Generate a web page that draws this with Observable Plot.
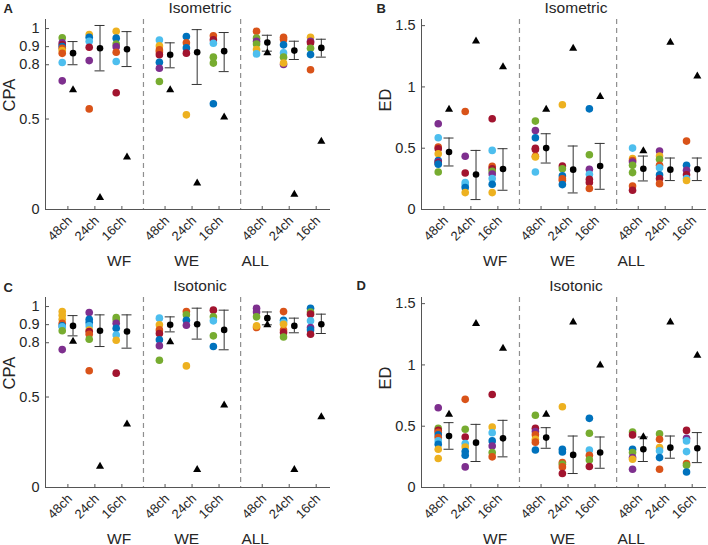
<!DOCTYPE html>
<html><head><meta charset="utf-8">
<script src="https://cdn.jsdelivr.net/npm/d3@7"></script>
<script src="https://cdn.jsdelivr.net/npm/@observablehq/plot@0.6"></script>
<style>
html,body{margin:0;padding:0;background:#fff;}
#chart{display:grid;grid-template-columns:354px 354px;grid-template-rows:272px 273px;width:708px;height:545px;}
#chart svg{display:block;overflow:visible;}
svg text{white-space:pre;}
</style></head><body><div id="chart"></div>
<script>
const groups = ["WF", "WE", "ALL"];
const channels = ["48ch", "24ch", "16ch"];
const palette = {B:"#0072BD", O:"#D95319", Y:"#EDB120", P:"#7E2F8E", G:"#77AC30", L:"#4DBEEE", R:"#A2142F"};
const cpaTicks = [0, 0.5, 0.8, 0.9, 1];
const edTicks = [0, 0.5, 1, 1.5];

// ---- A: CPA, Isometric ----
const dotsA = [
  [[.949,"G"],[.921,"P"],[.910,"R"],[.901,"B"],[.891,"O"],[.878,"Y"],[.863,"O"],[.812,"L"],[.711,"P"]],
  [[.967,"Y"],[.952,"B"],[.930,"L"],[.897,"R"],[.823,"P"],[.556,"O"]],
  [[.985,"Y"],[.947,"B"],[.915,"G"],[.900,"P"],[.869,"O"],[.818,"L"],[.645,"R"]],
  [[.937,"L"],[.904,"Y"],[.882,"O"],[.871,"O"],[.855,"R"],[.814,"B"],[.781,"P"],[.707,"G"]],
  [[.956,"B"],[.921,"O"],[.893,"B"],[.864,"R"],[.523,"Y"]],
  [[.960,"O"],[.938,"R"],[.919,"L"],[.842,"G"],[.809,"G"],[.584,"B"]],
  [[.985,"O"],[.947,"G"],[.930,"P"],[.915,"G"],[.884,"Y"],[.860,"L"]],
  [[.952,"O"],[.940,"O"],[.910,"B"],[.866,"L"],[.801,"P"],[.842,"G"],[.810,"Y"]],
  [[.952,"Y"],[.930,"P"],[.921,"R"],[.891,"G"],[.856,"B"],[.772,"O"]]
];
const meanA = [.864, .891, .886, .855, .869, .875, .923, .878, .893];
const lowA  = [.800, .766, .790, .783, .691, .762, .875, .829, .842];
const highA = [.928, 1.017, .983, .921, .994, .978, .963, .930, .941];
const triA  = [.661, .065, .289, .661, .145, .510, .866, .083, .376];

// ---- B: ED, Isometric ----
const dotsB = [
  [[.699,"P"],[.585,"L"],[.509,"O"],[.495,"R"],[.455,"Y"],[.400,"B"],[.390,"P"],[.379,"R"],[.370,"B"],[.306,"G"]],
  [[.799,"O"],[.434,"P"],[.298,"R"],[.220,"L"],[.200,"L"],[.179,"B"],[.138,"Y"]],
  [[.740,"R"],[.482,"L"],[.352,"O"],[.333,"R"],[.311,"G"],[.290,"P"],[.252,"L"],[.206,"B"],[.138,"Y"]],
  [[.721,"G"],[.645,"P"],[.585,"B"],[.500,"R"],[.490,"R"],[.435,"O"],[.428,"Y"],[.306,"L"]],
  [[.854,"Y"],[.355,"R"],[.333,"G"],[.274,"B"],[.250,"O"],[.238,"O"],[.203,"B"]],
  [[.821,"B"],[.447,"G"],[.328,"P"],[.287,"L"],[.247,"R"],[.220,"R"],[.171,"O"]],
  [[.501,"L"],[.415,"Y"],[.400,"O"],[.388,"P"],[.360,"G"],[.301,"G"],[.192,"O"],[.157,"R"]],
  [[.477,"P"],[.436,"Y"],[.409,"G"],[.360,"O"],[.341,"L"],[.284,"B"],[.252,"R"],[.211,"O"]],
  [[.558,"O"],[.360,"B"],[.320,"P"],[.284,"R"],[.252,"L"],[.236,"Y"]]
];
const meanB = [.469, .285, .330, .501, .325, .355, .333, .325, .328];
const lowB  = [.355, .081, .157, .379, .135, .165, .233, .236, .236];
const highB = [.583, .482, .496, .618, .518, .539, .436, .420, .420];
const triB  = [.816, 1.374, 1.163, .816, 1.314, .921, .477, 1.363, 1.087];

// ---- C: CPA, Isotonic ----
const dotsC = [
  [[.972,"Y"],[.952,"Y"],[.930,"Y"],[.908,"O"],[.893,"B"],[.888,"L"],[.866,"G"],[.762,"P"]],
  [[.967,"P"],[.930,"B"],[.912,"B"],[.893,"L"],[.870,"Y"],[.862,"R"],[.847,"O"],[.819,"G"],[.645,"O"]],
  [[.939,"G"],[.925,"G"],[.908,"P"],[.880,"B"],[.843,"L"],[.814,"Y"],[.632,"R"]],
  [[.936,"L"],[.899,"Y"],[.871,"O"],[.851,"R"],[.816,"B"],[.783,"P"],[.703,"G"]],
  [[.972,"O"],[.954,"G"],[.924,"B"],[.897,"P"],[.672,"Y"]],
  [[.980,"R"],[.943,"G"],[.921,"L"],[.838,"G"],[.779,"B"]],
  [[.991,"P"],[.970,"P"],[.943,"G"],[.884,"O"],[.893,"Y"]],
  [[.972,"O"],[.924,"B"],[.912,"L"],[.870,"O"],[.856,"R"],[.902,"Y"],[.832,"G"]],
  [[.991,"B"],[.970,"G"],[.958,"R"],[.921,"L"],[.884,"P"],[.871,"B"],[.847,"R"]]
];
const meanC = [.893, .866, .862, .899, .902, .871, .936, .893, .902];
const lowC  = [.838, .779, .770, .860, .820, .761, .899, .855, .851];
const highC = [.950, .954, .954, .943, .991, .980, .970, .936, .958];
const triC  = [.807, .116, .350, .805, .098, .455, .899, .098, .390];

// ---- D: ED, Isotonic ----
const dotsD = [
  [[.651,"P"],[.483,"G"],[.466,"R"],[.450,"O"],[.429,"B"],[.407,"O"],[.380,"L"],[.353,"B"],[.312,"Y"],[.236,"Y"]],
  [[.719,"O"],[.475,"G"],[.412,"R"],[.358,"L"],[.330,"Y"],[.293,"B"],[.263,"B"],[.168,"P"]],
  [[.759,"R"],[.494,"Y"],[.447,"L"],[.380,"B"],[.339,"P"],[.285,"G"],[.250,"O"]],
  [[.589,"G"],[.483,"R"],[.456,"P"],[.430,"O"],[.393,"Y"],[.370,"O"],[.306,"B"]],
  [[.659,"Y"],[.312,"B"],[.290,"B"],[.203,"O"],[.190,"G"],[.168,"O"],[.114,"R"]],
  [[.564,"B"],[.442,"G"],[.306,"L"],[.263,"O"],[.225,"G"],[.171,"R"]],
  [[.453,"G"],[.429,"R"],[.312,"B"],[.285,"G"],[.244,"P"],[.231,"Y"],[.149,"P"]],
  [[.439,"G"],[.393,"O"],[.325,"Y"],[.300,"L"],[.244,"B"],[.149,"O"]],
  [[.466,"R"],[.401,"P"],[.380,"L"],[.293,"L"],[.195,"O"],[.182,"G"],[.127,"B"]]
];
const meanD = [.420, .366, .401, .407, .266, .285, .312, .325, .320];
const lowD  = [.312, .212, .250, .320, .114, .157, .212, .239, .203];
const highD = [.529, .515, .548, .488, .420, .412, .412, .420, .448];
const triD  = [.597, 1.337, 1.134, .597, 1.348, .998, .412, 1.348, 1.077];

// ---------- drawing ----------
const FONT = "'Liberation Sans', Arial, Helvetica, sans-serif";
const INK = "#262626";
const AXIS = "#555";
const GROUP_STEP = 3.6;
const X_DOMAIN = [-0.83, 9.73];
const PLOT_W = 285, PLOT_H = 190;
const pxX = PLOT_W / (X_DOMAIN[1] - X_DOMAIN[0]);

function tickPos(i) { return Math.floor(i / 3) * GROUP_STEP + (i % 3); }
const tickPositions = d3.range(9).map(tickPos);
const tickLabel = new Map(tickPositions.map((p, i) => [p, channels[i % 3]]));
const separators = [1, 2].map(g => (tickPos(g * 3 - 1) + tickPos(g * 3)) / 2);

function panel(o) {
  const pxY = PLOT_H / (o.yDomain[1] - o.yDomain[0]);
  const dots = o.dots.flatMap((list, i) => list.map(([v, c]) => ({x: tickPos(i) - 0.21, y: v, c: palette[c]})));
  const stats = d3.range(9).map(i => ({x: tickPos(i) + 0.19, mean: o.mean[i], lo: o.low[i], hi: o.high[i], tri: o.tri[i]}));
  const cap = 5 / pxX;
  const tickLen = 3.5;
  return Plot.plot({
    width: 354, height: o.height,
    marginLeft: o.ml, marginRight: 354 - o.ml - PLOT_W,
    marginTop: o.mt, marginBottom: o.height - o.mt - PLOT_H,
    style: {fontFamily: FONT, color: INK, background: "white", overflow: "visible"},
    x: {domain: X_DOMAIN, axis: null},
    y: {domain: o.yDomain},
    marks: [
      Plot.ruleX(separators, {stroke: "#8f8f8f", strokeWidth: 1.2, strokeDasharray: "5,4"}),
      Plot.ruleY([o.yDomain[0]], {stroke: AXIS}),
      Plot.ruleX([X_DOMAIN[0]], {stroke: AXIS}),
      Plot.link(o.yTicks, {x1: X_DOMAIN[0], x2: X_DOMAIN[0] + tickLen / pxX, y1: d => d, y2: d => d, stroke: AXIS}),
      Plot.link(tickPositions, {x1: d => d, x2: d => d, y1: o.yDomain[0], y2: o.yDomain[0] + tickLen / pxY, stroke: AXIS}),
      Plot.axisY({ticks: o.yTicks, tickSize: 0, tickPadding: 6, tickFormat: d => String(d), fontSize: 14.5, label: null}),
      Plot.text(tickPositions, {x: d => d, y: o.yDomain[0], text: d => tickLabel.get(d), rotate: -45, textAnchor: "end", lineAnchor: "middle", dx: 2, dy: 9, fontSize: 13}),
      Plot.dot(dots, {x: "x", y: "y", fill: "c", r: 3.8}),
      Plot.ruleX(stats, {x: "x", y1: "lo", y2: "hi", stroke: "#333", strokeWidth: 1}),
      Plot.ruleY(stats, {y: "lo", x1: d => d.x - cap, x2: d => d.x + cap, stroke: "#333", strokeWidth: 1}),
      Plot.ruleY(stats, {y: "hi", x1: d => d.x - cap, x2: d => d.x + cap, stroke: "#333", strokeWidth: 1}),
      Plot.dot(stats, {x: "x", y: "mean", fill: "black", r: 3.3}),
      Plot.dot(stats, {x: "x", y: "tri", fill: "black", symbol: "triangle", r: 3}),
      Plot.text([o.title], {frameAnchor: "top", dx: 12, dy: -7, lineAnchor: "bottom", fontSize: 15.5}),
      Plot.text([o.ylabel], {frameAnchor: "left", dx: -36, dy: -3, rotate: -90, fontSize: 16.5}),
      Plot.text([groups.join(" ".repeat(10))], {frameAnchor: "bottom", dy: 56, lineAnchor: "bottom", fontSize: 15.5}),
      Plot.text([o.letter], {frameAnchor: "top-left", dx: o.lx - o.ml, dy: o.ly - o.mt, lineAnchor: "top", textAnchor: "start", fontWeight: "bold", fontSize: 13})
    ]
  });
}

const chart = document.getElementById("chart");
chart.append(
  panel({letter: "A", title: "Isometric", ylabel: "CPA", yDomain: [0, 1.05], yTicks: cpaTicks, dots: dotsA, mean: meanA, low: lowA, high: highA, tri: triA, height: 272, ml: 45, mt: 19, lx: 3, ly: 3}),
  panel({letter: "B", title: "Isometric", ylabel: "ED", yDomain: [0, 1.55], yTicks: edTicks, dots: dotsB, mean: meanB, low: lowB, high: highB, tri: triB, height: 272, ml: 67, mt: 19, lx: 22, ly: 3}),
  panel({letter: "C", title: "Isotonic", ylabel: "CPA", yDomain: [0, 1.05], yTicks: cpaTicks, dots: dotsC, mean: meanC, low: lowC, high: highC, tri: triC, height: 273, ml: 45, mt: 25, lx: 3, ly: 10}),
  panel({letter: "D", title: "Isotonic", ylabel: "ED", yDomain: [0, 1.55], yTicks: edTicks, dots: dotsD, mean: meanD, low: lowD, high: highD, tri: triD, height: 273, ml: 67, mt: 25, lx: 2, ly: 8})
);
</script></body></html>
